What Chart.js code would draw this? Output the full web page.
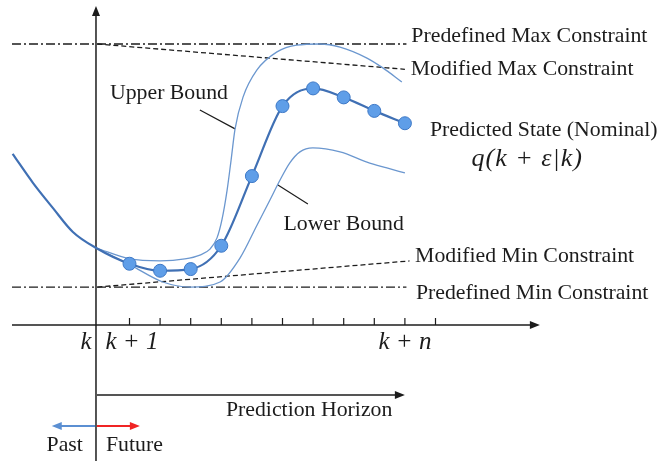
<!DOCTYPE html>
<html>
<head>
<meta charset="utf-8">
<script src="https://cdn.jsdelivr.net/npm/chart.js@4.4.1/dist/chart.umd.min.js"></script>
<style>
  html, body { margin: 0; padding: 0; background: #fff; }
  #wrap { width: 662px; height: 461px; }
</style>
</head>
<body>
<div id="wrap"><canvas id="chart" width="662" height="461"></canvas></div>
<script>
// ---- data: x in prediction steps (k = 0), y in state units ----
const stepX = [1, 2, 3, 4, 5, 6, 7, 8, 9, 10];
const nominalY = [2.18, 1.93, 1.99, 2.82, 5.30, 7.79, 8.42, 8.10, 7.62, 7.18];

const pastX = [-2.82, -2.15, -1.50, -0.85, -0.09];
const pastY = [6.09, 5.05, 4.16, 3.31, 2.74];

const upperX = [-0.09, 1.02, 2.0, 2.81, 3.30, 3.63, 3.86, 4.02, 4.19, 4.32, 4.45, 4.71, 5.16, 5.82, 6.47, 7.22, 7.88, 8.76, 9.28, 9.9];
const upperY = [2.74, 2.35, 2.28, 2.35, 2.49, 2.70, 3.10, 3.74, 4.80, 5.87, 6.98, 8.11, 9.07, 9.72, 9.96, 10.0, 9.89, 9.50, 9.15, 8.65];

const lowerX = [-0.09, 1.02, 2.09, 2.98, 3.96, 4.61, 5.17, 5.59, 5.92, 6.24, 6.57, 6.99, 7.88, 8.76, 9.41, 10.0];
const lowerY = [2.74, 2.14, 1.53, 1.35, 1.53, 2.38, 3.56, 4.45, 5.16, 5.77, 6.16, 6.30, 6.16, 5.80, 5.59, 5.41];

const constraintX = [-2.84, 10.05];
const predefMaxY = [10.0, 10.0];
const predefMinY = [1.35, 1.35];
const modMaxX = [-0.05, 10.0];
const modMaxY = [10.0, 9.1];
const modMinX = [-0.05, 10.15];
const modMinY = [1.35, 2.28];

const tickSteps = [1, 2, 3, 4, 5, 6, 7, 8, 9, 10, 11];
const tickLabelX = [-0.42, 1.08, 10.0];
const tickLabels = ['k', 'k + 1', 'k + n'];

const pts = (xs, ys) => xs.map((x, i) => ({ x: x, y: ys[i] }));

const blueDark = '#4070b4';
const blueLight = '#6b97cf';
const ink = '#1c1c1c';
const serif = '"Liberation Serif", "Times New Roman", serif';

// nominal = past trajectory + predicted steps
const nominalData = pts(pastX, pastY).concat(pts(stepX, nominalY));
const nominalRadius = pastX.map(() => 0).concat(stepX.map(() => 6.5));

const diagramPlugin = {
    id: 'diagram',
    beforeDatasetsDraw(chart) {
        const ctx = chart.ctx;
        const X = v => chart.scales.x.getPixelForValue(v);
        const Y = v => chart.scales.y.getPixelForValue(v);
        const axisX = X(-0.095);
        const axisY = Y(0);
        ctx.save();
        ctx.strokeStyle = ink;
        ctx.fillStyle = ink;
        ctx.lineWidth = 1.5;
        // vertical axis
        ctx.beginPath();
        ctx.moveTo(axisX, chart.height);
        ctx.lineTo(axisX, Y(11.35) + 8);
        ctx.stroke();
        arrowHead(ctx, axisX, Y(11.35), 0, -1, 10, 4);
        // horizontal axis
        ctx.beginPath();
        ctx.moveTo(X(-2.84), axisY);
        ctx.lineTo(X(14.41) - 8, axisY);
        ctx.stroke();
        arrowHead(ctx, X(14.41), axisY, 1, 0, 10, 4);
        // ticks
        ctx.lineWidth = 1.2;
        tickSteps.forEach(s => {
            ctx.beginPath();
            ctx.moveTo(X(s), axisY);
            ctx.lineTo(X(s), axisY - 7);
            ctx.stroke();
        });
        // prediction horizon arrow
        const ph = Y(-2.49);
        ctx.lineWidth = 1.5;
        ctx.beginPath();
        ctx.moveTo(axisX + 1, ph);
        ctx.lineTo(X(10.0) - 8, ph);
        ctx.stroke();
        arrowHead(ctx, X(10.0), ph, 1, 0, 10, 4);
        // past / future arrows
        const pf = Y(-3.59);
        ctx.strokeStyle = '#5b8fd2';
        ctx.fillStyle = '#5b8fd2';
        ctx.lineWidth = 2;
        ctx.beginPath();
        ctx.moveTo(axisX - 1, pf);
        ctx.lineTo(X(-1.54) + 8, pf);
        ctx.stroke();
        arrowHead(ctx, X(-1.54), pf, -1, 0, 10, 4);
        ctx.strokeStyle = '#f02424';
        ctx.fillStyle = '#f02424';
        ctx.beginPath();
        ctx.moveTo(axisX + 1, pf);
        ctx.lineTo(X(1.34) - 8, pf);
        ctx.stroke();
        arrowHead(ctx, X(1.34), pf, 1, 0, 10, 4);
        // leader lines
        ctx.strokeStyle = ink;
        ctx.lineWidth = 1.2;
        ctx.beginPath();
        ctx.moveTo(X(3.30), Y(7.65));
        ctx.lineTo(X(4.45), Y(6.98));
        ctx.moveTo(X(5.85), Y(4.98));
        ctx.lineTo(X(6.83), Y(4.31));
        ctx.stroke();
        ctx.restore();
    },
    afterDatasetsDraw(chart) {
        const ctx = chart.ctx;
        const X = v => chart.scales.x.getPixelForValue(v);
        const Y = v => chart.scales.y.getPixelForValue(v);
        ctx.save();
        ctx.fillStyle = ink;
        ctx.textBaseline = 'alphabetic';
        ctx.textAlign = 'left';
        ctx.font = '21.8px ' + serif;
        const labels = [
            ['Predefined Max Constraint', 10.21, 10.07],
            ['Modified Max Constraint', 10.19, 8.90],
            ['Upper Bound', 0.36, 8.04],
            ['Predicted State (Nominal)', 10.82, 6.73],
            ['Lower Bound', 6.03, 3.38],
            ['Modified Min Constraint', 10.33, 2.24],
            ['Predefined Min Constraint', 10.36, 0.93],
            ['Prediction Horizon', 4.15, -3.24],
            ['Past', -1.71, -4.48],
            ['Future', 0.23, -4.48]
        ];
        labels.forEach(l => ctx.fillText(l[0], X(l[1]), Y(l[2])));
        // math labels
        ctx.font = 'italic 25px ' + serif;
        ctx.textAlign = 'center';
        tickLabels.forEach((t, i) => ctx.fillText(t, X(tickLabelX[i]), Y(-0.85)));
        ctx.textAlign = 'left';
        ctx.font = 'italic 26px ' + serif;
        ctx.letterSpacing = '1px';
        ctx.fillText('q(k + \u03b5|k)', X(12.18), Y(5.66));
        ctx.restore();
    }
};

function arrowHead(ctx, x, y, dx, dy, len, half) {
    const px = -dy, py = dx;
    ctx.beginPath();
    ctx.moveTo(x, y);
    ctx.lineTo(x - dx * len + px * half, y - dy * len + py * half);
    ctx.lineTo(x - dx * len - px * half, y - dy * len - py * half);
    ctx.closePath();
    ctx.fill();
}

const lineDefaults = { pointRadius: 0, fill: false, cubicInterpolationMode: 'monotone' };

new Chart(document.getElementById('chart').getContext('2d'), {
    type: 'line',
    data: {
        datasets: [
            Object.assign({}, lineDefaults, {
                label: 'Predicted State (Nominal)',
                data: nominalData,
                borderColor: blueDark,
                borderWidth: 2.2,
                pointRadius: nominalRadius,
                pointBackgroundColor: '#5f9ee8',
                pointBorderColor: '#3d78c6',
                pointBorderWidth: 1
            }),
            Object.assign({}, lineDefaults, {
                label: 'Upper Bound',
                data: pts(upperX, upperY),
                borderColor: blueLight,
                borderWidth: 1.3
            }),
            Object.assign({}, lineDefaults, {
                label: 'Lower Bound',
                data: pts(lowerX, lowerY),
                borderColor: blueLight,
                borderWidth: 1.3
            }),
            Object.assign({}, lineDefaults, {
                label: 'Predefined Max Constraint',
                data: pts(constraintX, predefMaxY),
                borderColor: ink,
                borderWidth: 1.3,
                borderDash: [9, 3, 2, 3]
            }),
            Object.assign({}, lineDefaults, {
                label: 'Predefined Min Constraint',
                data: pts(constraintX, predefMinY),
                borderColor: ink,
                borderWidth: 1.3,
                borderDash: [9, 3, 2, 3]
            }),
            Object.assign({}, lineDefaults, {
                label: 'Modified Max Constraint',
                data: pts(modMaxX, modMaxY),
                borderColor: ink,
                borderWidth: 1.3,
                borderDash: [5, 3]
            }),
            Object.assign({}, lineDefaults, {
                label: 'Modified Min Constraint',
                data: pts(modMinX, modMinY),
                borderColor: ink,
                borderWidth: 1.3,
                borderDash: [5, 3]
            })
        ]
    },
    options: {
        responsive: false,
        animation: false,
        layout: { padding: 0, autoPadding: false },
        scales: {
            x: { type: 'linear', display: false, min: -3.232, max: 18.402 },
            y: { type: 'linear', display: false, min: -4.84, max: 11.566 }
        },
        plugins: {
            legend: { display: false },
            tooltip: { enabled: false }
        }
    },
    plugins: [diagramPlugin]
});
</script>
</body>
</html>
